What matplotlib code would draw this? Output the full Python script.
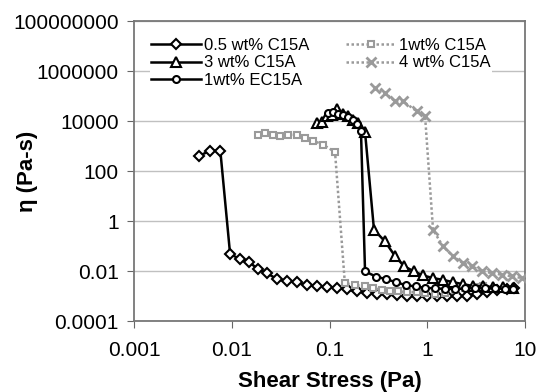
import numpy as np
import matplotlib
matplotlib.use("Agg")
import matplotlib.pyplot as plt

plt.rcParams['font.family'] = ['Liberation Sans', 'DejaVu Sans']

### data ###

# 0.5 wt% C15A
x_05 = [0.00466, 0.00598, 0.00763, 0.0096, 0.0121, 0.0150, 0.0185, 0.0229, 0.0290, 0.0366,
        0.0464, 0.0587, 0.0743, 0.0940, 0.119, 0.150, 0.190, 0.241, 0.305, 0.385,
        0.488, 0.617, 0.781, 0.988, 1.25, 1.58, 2.00, 2.53, 3.21, 4.06, 5.13, 6.50, 7.71]
y_05 = [420, 665, 665, 0.050, 0.031, 0.024, 0.0123, 0.0085, 0.0049, 0.0041,
        0.0037, 0.0028, 0.0026, 0.0024, 0.0022, 0.0019, 0.0016, 0.0014, 0.0013, 0.0012,
        0.0011, 0.00107, 0.00102, 0.00102, 0.00102, 0.00102, 0.00102, 0.00107, 0.00123,
        0.0015, 0.00178, 0.0019, 0.0021]

# 1 wt% C15A
x_1 = [0.0187, 0.0218, 0.0266, 0.0311, 0.0378, 0.0461, 0.056, 0.0681, 0.0863, 0.1135,
       0.143, 0.181, 0.229, 0.277, 0.346, 0.415, 0.500, 0.620, 0.780, 0.945,
       1.20, 1.50, 1.90, 2.40, 3.07, 3.70]
y_1 = [2900, 3400, 2900, 2500, 2900, 2900, 2150, 1670, 1150, 590,
       0.0034, 0.0029, 0.0025, 0.0021, 0.0018, 0.0017, 0.0016, 0.0015, 0.0015, 0.0014,
       0.0013, 0.0014, 0.0018, 0.0021, 0.0024, 0.0025]

# 3 wt% C15A
x_3 = [0.0743, 0.0836, 0.094, 0.106, 0.119, 0.137, 0.154, 0.173, 0.195, 0.230,
       0.284, 0.368, 0.466, 0.577, 0.730, 0.902, 1.14, 1.44, 1.83, 2.31,
       2.92, 3.70, 4.69, 5.93, 7.50]
y_3 = [8500, 9300, 16300, 17900, 30800, 19600, 16300, 11300, 8500, 3700,
       0.46, 0.158, 0.041, 0.016, 0.010, 0.0069, 0.0054, 0.0046, 0.0037, 0.0031,
       0.0026, 0.0025, 0.0024, 0.0023, 0.0021]

# 4 wt% C15A
x_4 = [0.291, 0.368, 0.466, 0.564, 0.780, 0.945,
       1.14, 1.44, 1.83, 2.31, 2.86, 3.61, 4.58, 5.79, 7.33, 9.27]
y_4 = [214000, 135000, 63000, 63000, 25000, 15800,
       0.46, 0.10, 0.040, 0.021, 0.016, 0.010, 0.0086, 0.0073, 0.0063, 0.0054]

# 1 wt% EC15A
x_ec = [0.0963, 0.108, 0.122, 0.137, 0.154, 0.173, 0.191, 0.209,
        0.230, 0.298, 0.377, 0.478, 0.604, 0.764, 0.945, 1.20, 1.51, 1.92,
        2.42, 3.07, 3.88, 4.91, 6.21, 7.50]
y_ec = [21500, 23500, 19600, 17800, 14900, 11200, 7800, 4100,
        0.0100, 0.0062, 0.0049, 0.0037, 0.0028, 0.0025, 0.0022, 0.0021, 0.0020, 0.0020,
        0.0021, 0.0021, 0.0021, 0.0021, 0.0020, 0.0019]

yticks = [1e-4, 1e-2, 1, 1e2, 1e4, 1e6, 1e8]
ytick_labels = ["0.0001", "0.01", "1", "100", "10000", "1000000", "100000000"]
xticks = [0.001, 0.01, 0.1, 1, 10]
xtick_labels = ["0.001", "0.01", "0.1", "1", "10"]

### plotting ###

fig = plt.figure(figsize=(5.39, 3.92), dpi=100)
ax = fig.add_axes([0.2486, 0.180, 0.7260, 0.7657])

grey = '#9a9a9a'
dot = (0, (1, 1))

l05, = ax.plot(x_05, y_05, color='k', lw=1.8, marker='D', ms=5, mfc='white', mec='k', mew=1.5, zorder=3)
l1, = ax.plot(x_1, y_1, color=grey, lw=1.8, ls=dot, marker='s', ms=5, mfc='white', mec=grey, mew=1.5, zorder=3)
l3, = ax.plot(x_3, y_3, color='k', lw=1.8, marker='^', ms=6.5, mfc='white', mec='k', mew=1.5, zorder=3)
l4, = ax.plot(x_4, y_4, color=grey, lw=1.8, ls=dot, marker='x', ms=7, mec=grey, mew=2, zorder=3)
lec, = ax.plot(x_ec, y_ec, color='k', lw=1.8, marker='o', ms=5, mfc='white', mec='k', mew=1.5, zorder=3)

ax.set_xscale('log')
ax.set_yscale('log')
ax.set_xlim(0.001, 10)
ax.set_ylim(1e-4, 1e8)

ax.set_xticks(xticks)
ax.set_xticklabels(xtick_labels)
ax.set_yticks(yticks)
ax.set_yticklabels(ytick_labels)
ax.minorticks_off()
ax.tick_params(axis='both', labelsize=15, length=5, color='#666666', direction='out')
ax.tick_params(axis='x', pad=9)
ax.tick_params(axis='y', pad=6)

ax.grid(axis='y', color='#c0c0c0', lw=1)
ax.set_axisbelow(True)
for s in ax.spines.values():
    s.set_color('#777777')
    s.set_linewidth(1.3)

ax.set_xlabel('Shear Stress (Pa)', fontsize=16, fontweight='bold')
ax.set_ylabel('η (Pa-s)', fontsize=16, fontweight='bold')
ax.xaxis.set_label_coords(0.5, -0.165)
ax.yaxis.set_label_coords(-0.245, 0.5)

leg = ax.legend([l05, l3, lec, l1, l4],
                ['0.5 wt% C15A', '3 wt% C15A', '1wt% EC15A', '1wt% C15A', '4 wt% C15A'],
                ncol=2, loc='upper left', mode='expand',
                bbox_to_anchor=(0.02, 0.975, 0.915, 0.0),
                fontsize=12, handlelength=3.0, handletextpad=0.2,
                labelspacing=0.15, borderpad=0.05,
                frameon=True, fancybox=False, framealpha=1)
leg.get_frame().set_facecolor('white')
leg.get_frame().set_edgecolor('none')
leg.set_zorder(2.5)

plt.savefig("out.png", dpi=100)
